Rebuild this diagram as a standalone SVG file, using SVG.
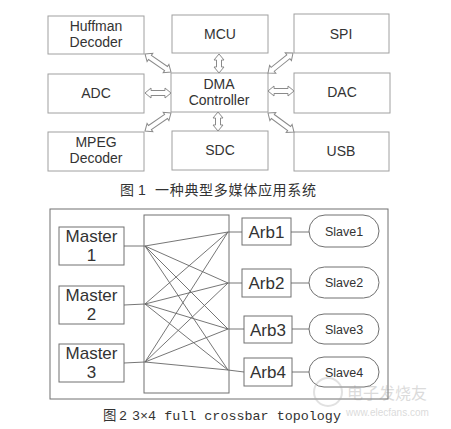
<svg xmlns="http://www.w3.org/2000/svg" width="451" height="429" viewBox="0 0 451 429">
<style>
.bx{fill:#fff;stroke:#a0a0a0;stroke-width:1}
.bx2{fill:#fff;stroke:#707070;stroke-width:1}
.t{font-family:"Liberation Sans",Arial,sans-serif;font-size:14px;fill:#333;text-anchor:middle}
.t2{font-family:"Liberation Sans",Arial,sans-serif;font-size:17px;fill:#333;text-anchor:middle}
.t3{font-family:"Liberation Sans",Arial,sans-serif;font-size:12.5px;fill:#333;text-anchor:middle}
.cap{font-family:"Liberation Sans","Noto Sans CJK SC",sans-serif;font-size:14px;fill:#333}
.mono{font-family:"Liberation Mono","Noto Sans CJK SC",monospace;font-size:13.4px;fill:#333}
.da{fill:#fff;stroke:#8a8a8a;stroke-width:1}
.ln{stroke:#666;stroke-width:0.9;fill:none}
</style>
<rect width="451" height="429" fill="#fff"/>

<!-- Figure 1 -->
<g id="huffman"><rect class="bx" x="48" y="16" width="96" height="38"/><text class="t" x="96" y="31">Huffman</text><text class="t" x="96" y="47">Decoder</text></g>
<g id="mcu"><rect class="bx" x="172" y="15" width="96" height="38"/><text class="t" x="220" y="39">MCU</text></g>
<g id="spi"><rect class="bx" x="294" y="14" width="95" height="39"/><text class="t" x="341" y="39">SPI</text></g>
<g id="adc"><rect class="bx" x="48" y="74" width="96" height="39"/><text class="t" x="96" y="98">ADC</text></g>
<g id="dma"><rect class="bx" x="171" y="73" width="97" height="39"/><text class="t" x="219" y="89">DMA</text><text class="t" x="219" y="105">Controller</text></g>
<g id="dac"><rect class="bx" x="294" y="73" width="96" height="40"/><text class="t" x="342" y="97">DAC</text></g>
<g id="mpeg"><rect class="bx" x="48" y="132" width="96" height="39"/><text class="t" x="96" y="147">MPEG</text><text class="t" x="96" y="163">Decoder</text></g>
<g id="sdc"><rect class="bx" x="172" y="131" width="96" height="39"/><text class="t" x="220" y="155">SDC</text></g>
<g id="usb"><rect class="bx" x="294" y="132" width="95" height="39"/><text class="t" x="341" y="156">USB</text></g>

<g id="connectors1">
<path class="da" transform="translate(145,54) rotate(34.7)" d="M0,0 L6,-5 L6,-2.5 L25.6,-2.5 L25.6,-5 L31.6,0 L25.6,5 L25.6,2.5 L6,2.5 L6,5 Z"/>
<path class="da" transform="translate(219,54) rotate(90)" d="M0,0 L6,-5 L6,-2.5 L13,-2.5 L13,-5 L19,0 L13,5 L13,2.5 L6,2.5 L6,5 Z"/>
<path class="da" transform="translate(293,53) rotate(141.3)" d="M0,0 L6,-5 L6,-2.5 L26,-2.5 L26,-5 L32,0 L26,5 L26,2.5 L6,2.5 L6,5 Z"/>
<path class="da" transform="translate(145,93)" d="M0,0 L6,-5 L6,-2.5 L20,-2.5 L20,-5 L26,0 L20,5 L20,2.5 L6,2.5 L6,5 Z"/>
<path class="da" transform="translate(268,91)" d="M0,0 L6,-5 L6,-2.5 L20,-2.5 L20,-5 L26,0 L20,5 L20,2.5 L6,2.5 L6,5 Z"/>
<path class="da" transform="translate(145,131) rotate(-34.7)" d="M0,0 L6,-5 L6,-2.5 L25.6,-2.5 L25.6,-5 L31.6,0 L25.6,5 L25.6,2.5 L6,2.5 L6,5 Z"/>
<path class="da" transform="translate(218,112) rotate(90)" d="M0,0 L6,-5 L6,-2.5 L13,-2.5 L13,-5 L19,0 L13,5 L13,2.5 L6,2.5 L6,5 Z"/>
<path class="da" transform="translate(268,113) rotate(36.2)" d="M0,0 L6,-5 L6,-2.5 L26.2,-2.5 L26.2,-5 L32.2,0 L26.2,5 L26.2,2.5 L6,2.5 L6,5 Z"/>
</g>

<text class="cap" x="120" y="195">图 1</text>
<text class="cap" x="155" y="195" letter-spacing="0.7">一种典型多媒体应用系统</text>

<!-- Figure 2 -->
<rect class="bx2" x="50" y="209" width="338" height="190"/>
<g id="crossbar"><rect class="bx2" x="144" y="215" width="85" height="178"/></g>
<g id="master1"><rect class="bx2" x="59" y="227" width="65" height="38"/><text class="t2" x="91.5" y="242">Master</text><text class="t2" x="91.5" y="261">1</text></g>
<g id="master2"><rect class="bx2" x="59" y="286" width="65" height="38"/><text class="t2" x="91.5" y="301">Master</text><text class="t2" x="91.5" y="320">2</text></g>
<g id="master3"><rect class="bx2" x="59" y="344" width="65" height="38"/><text class="t2" x="91.5" y="359">Master</text><text class="t2" x="91.5" y="378">3</text></g>
<g id="arb1"><rect class="bx2" x="242" y="218" width="49" height="27"/><text class="t2" x="266.5" y="238">Arb1</text></g>
<g id="arb2"><rect class="bx2" x="242" y="269" width="49" height="28"/><text class="t2" x="266.5" y="289">Arb2</text></g>
<g id="arb3"><rect class="bx2" x="244" y="316" width="48" height="27"/><text class="t2" x="268" y="336">Arb3</text></g>
<g id="arb4"><rect class="bx2" x="244" y="358" width="48" height="28"/><text class="t2" x="268" y="378">Arb4</text></g>
<g id="slave1"><rect class="bx2" x="309" y="215" width="70" height="32" rx="16"/><text class="t3" x="344" y="236">Slave1</text></g>
<g id="slave2"><rect class="bx2" x="309" y="267" width="70" height="31" rx="15.5"/><text class="t3" x="344" y="287">Slave2</text></g>
<g id="slave3"><rect class="bx2" x="309" y="314" width="70" height="30" rx="15"/><text class="t3" x="344" y="334">Slave3</text></g>
<g id="slave4"><rect class="bx2" x="309" y="357" width="70" height="30" rx="15"/><text class="t3" x="344" y="377">Slave4</text></g>

<g id="connectors2">
<path class="ln" d="M124,246 L145,246 M124,305 L145,304 M124,363 L145,362"/>
<path class="ln" d="M145,246 L228,232 M145,246 L228,283 M145,246 L228,329 M145,246 L228,370"/>
<path class="ln" d="M145,304 L228,232 M145,304 L228,283 M145,304 L228,329 M145,304 L228,370"/>
<path class="ln" d="M145,362 L228,232 M145,362 L228,283 M145,362 L228,329 M145,362 L228,370"/>
<path class="ln" d="M228,232 L242,232 M228,283 L242,283 M228,329 L244,329 M228,370 L244,372"/>
<path class="ln" d="M291,232 L309,232 M291,283 L309,283 M292,329 L309,329 M292,372 L309,372"/>
</g>

<text class="mono" x="103" y="420">图</text>
<text class="mono" x="119" y="420">2</text>
<text class="mono" x="132" y="420">3×4 full crossbar topology</text>

<g id="watermark" opacity="0.35">
<circle cx="328" cy="392" r="14" fill="none" stroke="#aaa" stroke-width="2"/>
<text x="347" y="399" font-family="Noto Sans CJK SC,sans-serif" font-size="16" fill="#999">电子发烧友</text>
<text x="346" y="416" font-family="Liberation Sans,sans-serif" font-size="10" fill="#999">www.elecfans.com</text>
</g>
</svg>
